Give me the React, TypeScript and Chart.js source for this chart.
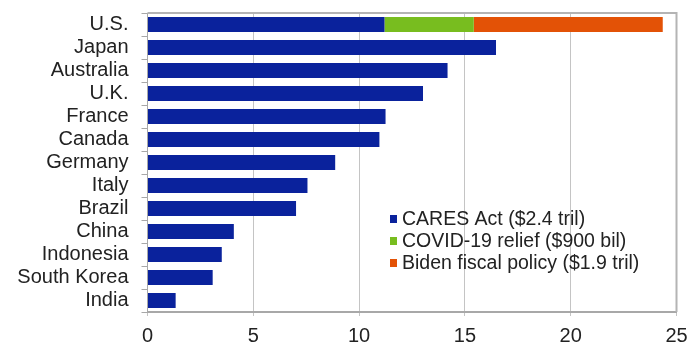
import React, { useEffect, useRef } from "react";
import { Chart, registerables } from "chart.js";

Chart.register(...registerables);

const categories = [
  "U.S.", "Japan", "Australia", "U.K.", "France", "Canada", "Germany",
  "Italy", "Brazil", "China", "Indonesia", "South Korea", "India",
];
const caresAct = [11.2, 16.47, 14.18, 13.02, 11.25, 10.96, 8.87, 7.56, 7.02, 4.08, 3.51, 3.08, 1.33];
const covidRelief = [4.22, 0, 0, 0, 0, 0, 0, 0, 0, 0, 0, 0, 0];
const bidenPolicy = [8.93, 0, 0, 0, 0, 0, 0, 0, 0, 0, 0, 0, 0];
const seriesLabels = ["CARES Act ($2.4 tril)", "COVID-19 relief ($900 bil)", "Biden fiscal policy ($1.9 tril)"];
const seriesColors = ["#0a229c", "#78bd1f", "#e35206"];
const xTicks = [0, 5, 10, 15, 20, 25];

const FONT = "'Liberation Sans', Arial, sans-serif";

const framePlugin = {
  id: "frame",
  afterDraw(chart: any) {
    const { ctx, chartArea } = chart;
    ctx.save();
    ctx.strokeStyle = "#b4b4b4";
    ctx.lineWidth = 2;
    ctx.beginPath();
    ctx.moveTo(chartArea.left, chartArea.top);
    ctx.lineTo(chartArea.right, chartArea.top);
    ctx.lineTo(chartArea.right, chartArea.bottom);
    ctx.stroke();
    // legend
    const x0 = chartArea.left + 242.5;
    const y0 = chartArea.top + 206;
    ctx.font = `19.5px ${FONT}`;
    ctx.textBaseline = "middle";
    ctx.textAlign = "left";
    chart.data.datasets.forEach((ds: any, i: number) => {
      const cy = y0 + i * 22;
      ctx.fillStyle = ds.backgroundColor;
      ctx.fillRect(x0, cy - 4, 7, 8);
      ctx.fillStyle = "#222";
      ctx.fillText(ds.label, x0 + 12, cy + 1);
    });
    ctx.restore();
  },
};

export default function App() {
  const ref = useRef<HTMLCanvasElement>(null);
  useEffect(() => {
    document.body.style.margin = "0";
    const chart = new Chart(ref.current!, {
      type: "bar",
      data: {
        labels: categories,
        datasets: [
          { label: seriesLabels[0], data: caresAct, backgroundColor: seriesColors[0] },
          { label: seriesLabels[1], data: covidRelief, backgroundColor: seriesColors[1] },
          { label: seriesLabels[2], data: bidenPolicy, backgroundColor: seriesColors[2] },
        ],
      },
      plugins: [framePlugin],
      options: {
        indexAxis: "y",
        responsive: false,
        animation: false,
        layout: { padding: { top: 13, right: 12.5, left: 0, bottom: 0 } },
        datasets: { bar: { barPercentage: 0.66, categoryPercentage: 1 } },
        plugins: { legend: { display: false }, tooltip: { enabled: false } },
        scales: {
          x: {
            stacked: true,
            min: 0,
            max: 25,
            afterBuildTicks: (scale: any) => {
              scale.ticks = xTicks.map((v) => ({ value: v }));
            },
            afterFit: (scale: any) => {
              scale.height = 31;
              scale.paddingLeft = 0;
              scale.paddingRight = 0;
            },
            grid: { color: "#c4c4c4", lineWidth: 1, tickLength: 4, drawTicks: true },
            border: { display: true, color: "#a8a8a8", width: 2 },
            ticks: { font: { family: FONT, size: 20 }, color: "#222", padding: 8, maxRotation: 0 },
          },
          y: {
            stacked: true,
            afterFit: (scale: any) => {
              scale.width = 147.5;
              scale.paddingTop = 0;
              scale.paddingBottom = 0;
            },
            grid: { drawOnChartArea: false, tickLength: 6, color: "#a8a8a8", offset: true },
            border: { display: true, color: "#a8a8a8", width: 1 },
            ticks: { font: { family: FONT, size: 20 }, color: "#222", padding: 13, autoSkip: false },
          },
        },
      },
    } as any);
    return () => chart.destroy();
  }, []);
  return (
    <div style={{ position: "absolute", left: 0, top: 0, width: 689, height: 343 }}>
      <canvas ref={ref} width={689} height={343} />
    </div>
  );
}
